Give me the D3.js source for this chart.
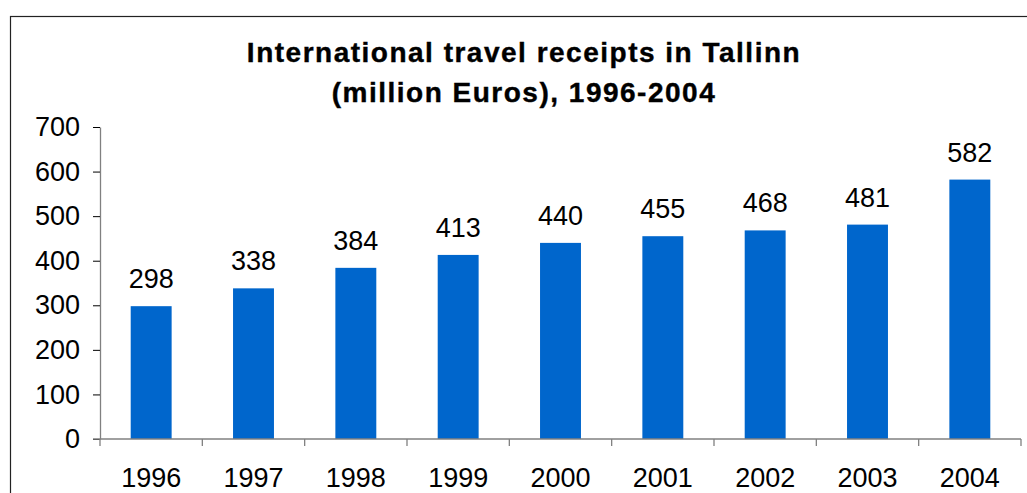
<!DOCTYPE html>
<html>
<head>
<meta charset="utf-8">
<script src="https://cdn.jsdelivr.net/npm/d3@7/dist/d3.min.js"></script>
<style>
  html, body { margin: 0; padding: 0; background: #fff; overflow: hidden; }
  svg { display: block; font-family: Arial, "Liberation Sans", sans-serif; }
</style>
</head>
<body>
<svg id="chart" width="1027" height="493"></svg>
<script>
'use strict';

var years = ['1996', '1997', '1998', '1999', '2000', '2001', '2002', '2003', '2004'];
var receipts = [298, 338, 384, 413, 440, 455, 468, 481, 582];
var yTicks = [0, 100, 200, 300, 400, 500, 600, 700];
var titleLines = ['International travel receipts in Tallinn', '(million Euros), 1996-2004'];

var svg = d3.select('#chart');

// outer frame, runs off the right/bottom edges like the original
svg.append('rect')
  .attr('x', 10.5).attr('y', 16.5)
  .attr('width', 1100).attr('height', 600)
  .attr('fill', 'none')
  .attr('stroke', '#222')
  .attr('stroke-width', 1.2);

var x = d3.scaleBand()
  .domain(years)
  .range([100, 1021])
  .paddingInner(0.6)
  .paddingOuter(0.3);

var y = d3.scaleLinear()
  .domain([0, 700])
  .range([439, 127]);

// title (wider, heavier face in the original -> a bit of letter spacing + stroke)
svg.append('text')
  .attr('text-anchor', 'middle')
  .attr('font-size', 28)
  .attr('font-weight', 'bold')
  .attr('letter-spacing', 1.5)
  .attr('stroke', '#000')
  .attr('stroke-width', 0.4)
  .selectAll('tspan')
  .data(titleLines)
  .enter().append('tspan')
    .attr('x', 524)
    .attr('y', function(d, i) { return 62 + i * 40; })
    .text(function(d) { return d; });

// bars
svg.append('g').selectAll('rect')
  .data(receipts)
  .enter().append('rect')
    .attr('x', function(d, i) { return x(years[i]); })
    .attr('y', function(d) { return y(d); })
    .attr('width', x.bandwidth())
    .attr('height', function(d) { return y(0) - y(d); })
    .attr('fill', '#0066CC');

// value labels
svg.append('g').selectAll('text')
  .data(receipts)
  .enter().append('text')
    .attr('x', function(d, i) { return x(years[i]) + x.bandwidth() / 2; })
    .attr('y', function(d) { return y(d) - 18; })
    .attr('text-anchor', 'middle')
    .attr('font-size', 27)
    .attr('fill', '#000')
    .text(function(d) { return d; });

// y axis
var yAxis = svg.append('g')
  .attr('transform', 'translate(100,0)')
  .call(d3.axisLeft(y).tickValues(yTicks).tickSize(7).tickPadding(13).tickSizeOuter(0));
yAxis.select('.domain').attr('stroke', '#808080').attr('stroke-width', 1.3);
yAxis.selectAll('.tick line').attr('stroke', '#000').attr('stroke-width', 1);
yAxis.selectAll('.tick text')
  .attr('font-size', 27)
  .attr('font-family', 'Arial, "Liberation Sans", sans-serif')
  .attr('fill', '#000');

// x axis: line with ticks between categories
var xAxis = svg.append('g').attr('class', 'x-axis');
xAxis.append('line')
  .attr('x1', 93).attr('x2', x.range()[1])
  .attr('y1', y(0)).attr('y2', y(0))
  .attr('stroke', '#808080').attr('stroke-width', 1.3);

var edges = years.map(function(d) { return x(d) + x.bandwidth() / 2 - x.step() / 2; })
  .concat([x(years[years.length - 1]) + x.bandwidth() / 2 + x.step() / 2]);

xAxis.selectAll('line.tick')
  .data(edges)
  .enter().append('line')
    .attr('class', 'tick')
    .attr('x1', function(d) { return d; })
    .attr('x2', function(d) { return d; })
    .attr('y1', y(0)).attr('y2', y(0) + 7)
    .attr('stroke', '#808080').attr('stroke-width', 1.3);

xAxis.selectAll('text')
  .data(years)
  .enter().append('text')
    .attr('x', function(d) { return x(d) + x.bandwidth() / 2; })
    .attr('y', y(0) + 48)
    .attr('text-anchor', 'middle')
    .attr('font-size', 27)
    .attr('fill', '#000')
    .text(function(d) { return d; });
</script>
</body>
</html>
